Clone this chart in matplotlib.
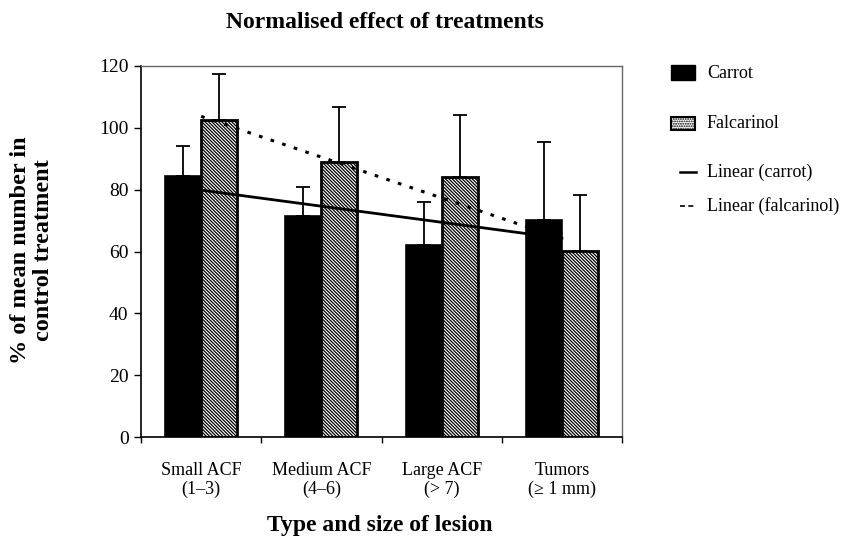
import numpy as np
import matplotlib
matplotlib.use("Agg")
import matplotlib.pyplot as plt
from matplotlib.patches import Rectangle
from matplotlib.lines import Line2D

categories = ["Small ACF\n(1\u20133)", "Medium ACF\n(4\u20136)", "Large ACF\n(> 7)", "Tumors\n(\u2265 1 mm)"]
carrot = [84.4, 71.5, 62.1, 70.2]
carrot_err = [9.7, 9.5, 13.9, 25.3]
falcarinol = [102.5, 89.0, 84.0, 60.2]
falcarinol_err = [14.9, 17.8, 20.0, 18.1]
yticks = [0, 20, 40, 60, 80, 100, 120]

plt.rcParams['font.family'] = ['Liberation Serif', 'DejaVu Serif']
plt.rcParams['hatch.linewidth'] = 0.9

W, H = 847, 550
fig = plt.figure(figsize=(W / 100, H / 100), dpi=100)
ax = fig.add_axes([141 / W, 1 - 437 / H, (622 - 141) / W, (437 - 66) / H])

x = np.arange(1, len(categories) + 1)
bw = 0.3
ax.bar(x - bw / 2, carrot, bw, color='black', edgecolor='black', linewidth=1.2, zorder=2)
ax.bar(x + bw / 2, falcarinol, bw, color='white', edgecolor='black', linewidth=2,
       hatch='\\' * 10, zorder=2)
ax.errorbar(x - bw / 2, carrot, yerr=[np.zeros(4), carrot_err], fmt='none', ecolor='black',
            elinewidth=1.3, capsize=5, capthick=1.3, zorder=3)
ax.errorbar(x + bw / 2, falcarinol, yerr=[np.zeros(4), falcarinol_err], fmt='none', ecolor='black',
            elinewidth=1.3, capsize=5, capthick=1.3, zorder=3)

# linear trend lines
pc = np.polyfit(x, carrot, 1)
pf = np.polyfit(x, falcarinol, 1)
ax.plot(x, np.polyval(pc, x), color='black', linewidth=2, zorder=4)
ax.plot(x, np.polyval(pf, x), color='black', linewidth=2.2, linestyle=(0, (1.2, 2.8)), zorder=4)

ax.set_xlim(0.5, 4.5)
ax.set_ylim(0, 120)
ax.set_yticks(yticks)
ax.set_yticklabels([str(v) for v in yticks], fontsize=14)
ax.set_xticks(np.arange(0.5, 4.6, 1.0))
ax.set_xticklabels([])
ax.set_xticks(x, minor=True)
ax.set_xticklabels(categories, minor=True, fontsize=13, linespacing=1.1)
ax.tick_params(axis='x', which='minor', length=0, pad=18)
ax.tick_params(axis='x', which='major', length=4, direction='out', width=1)
ax.tick_params(axis='y', length=5, direction='out', width=1, pad=4)
for s in ['left', 'bottom']:
    ax.spines[s].set_linewidth(1.2)
for s in ['top', 'right']:
    ax.spines[s].set_color('#666666')
    ax.spines[s].set_linewidth(1)

fig.text(385 / W, 1 - 23 / H, "Normalised effect of treatments", ha='center', va='center',
         fontsize=17, fontweight='bold')
fig.text(380 / W, 1 - 525 / H, "Type and size of lesion", ha='center', va='center',
         fontsize=17, fontweight='bold')
fig.text(32 / W, 1 - 250 / H, "% of mean number in\ncontrol treatment", ha='center', va='center',
         rotation=90, fontsize=17.5, fontweight='bold', linespacing=1.15)

# legend drawn manually
def fx(px):
    return px / W

def fy(py):
    return 1 - py / H

fig.patches.append(Rectangle((fx(671), fy(80)), 24 / W, 15 / H, transform=fig.transFigure,
                             facecolor='black', edgecolor='black', figure=fig))
fig.patches.append(Rectangle((fx(671), fy(130)), 24 / W, 13 / H, transform=fig.transFigure,
                             facecolor='white', edgecolor='black', linewidth=1.5,
                             hatch='.......', figure=fig))
fig.lines.append(Line2D([fx(680), fx(696)], [fy(172), fy(172)], transform=fig.transFigure,
                        color='black', linewidth=1.8, figure=fig))
fig.lines.append(Line2D([fx(680), fx(696)], [fy(206), fy(206)], transform=fig.transFigure,
                        color='black', linewidth=1.2, linestyle=(0, (3, 2)), figure=fig))
for label, py in [("Carrot", 73), ("Falcarinol", 123), ("Linear (carrot)", 172),
                  ("Linear (falcarinol)", 206)]:
    fig.text(fx(707), fy(py), label, ha='left', va='center', fontsize=13)

fig.savefig("out.png", dpi=100)
